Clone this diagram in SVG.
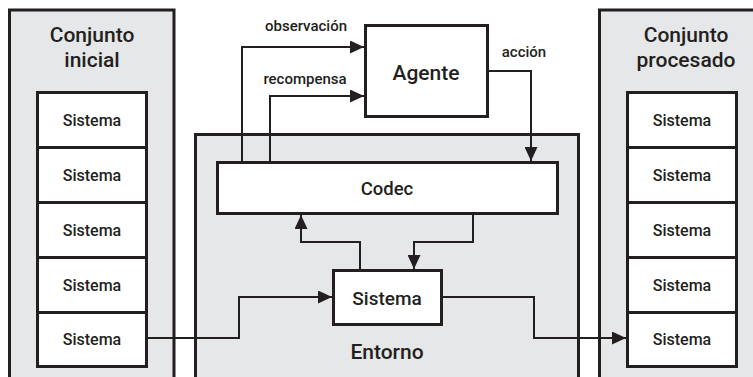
<svg xmlns="http://www.w3.org/2000/svg" width="753" height="377" viewBox="0 0 753 377">
  <style>
    .panel { fill: #e6e7e8; stroke: #231f20; stroke-width: 3; }
    .box { fill: #ffffff; stroke: #231f20; stroke-width: 3; }
    .wire { fill: none; stroke: #231f20; stroke-width: 2; }
    text { font-family: Roboto, "Liberation Sans", sans-serif; font-weight: 500; fill: #231f20; text-anchor: middle; }
    .title { font-size: 21px; }
    .item { font-size: 16px; }
    .lbl { font-size: 15px; }
    .big { font-size: 21px; }
    .mid { font-size: 18.5px; }
    .sys { font-size: 19px; }
  </style>
  <defs>
    <marker id="arrow" viewBox="0 0 14 13" refX="14" refY="6.5" markerWidth="14" markerHeight="13" markerUnits="userSpaceOnUse" orient="auto">
      <path d="M0,0 L14,6.5 L0,13 Z" fill="#231f20"/>
    </marker>
  </defs>

  <!-- background -->
  <rect x="0" y="0" width="753" height="377" fill="#ffffff"/>

  <!-- initial set -->
  <g id="initial-set">
    <rect class="panel" x="9.5" y="10" width="164.5" height="400"/>
    <text class="title" x="92" y="42">Conjunto</text>
    <text class="title" x="92" y="67">inicial</text>
  </g>
  <g id="initial-1"><rect class="box" x="37.5" y="92.5" width="109" height="55"/><text class="item" x="92" y="125.5">Sistema</text></g>
  <g id="initial-2"><rect class="box" x="37.5" y="147.5" width="109" height="55"/><text class="item" x="92" y="180.5">Sistema</text></g>
  <g id="initial-3"><rect class="box" x="37.5" y="202.5" width="109" height="55"/><text class="item" x="92" y="235.5">Sistema</text></g>
  <g id="initial-4"><rect class="box" x="37.5" y="257.5" width="109" height="55"/><text class="item" x="92" y="290.5">Sistema</text></g>
  <g id="initial-5"><rect class="box" x="37.5" y="312.5" width="109" height="54"/><text class="item" x="92" y="345">Sistema</text></g>

  <!-- processed set -->
  <g id="processed-set">
    <rect class="panel" x="599.5" y="10" width="200" height="400"/>
    <text class="title" x="686" y="42">Conjunto</text>
    <text class="title" x="686" y="67">procesado</text>
  </g>
  <g id="processed-1"><rect class="box" x="627.5" y="92.5" width="109" height="55"/><text class="item" x="682" y="125.5">Sistema</text></g>
  <g id="processed-2"><rect class="box" x="627.5" y="147.5" width="109" height="55"/><text class="item" x="682" y="180.5">Sistema</text></g>
  <g id="processed-3"><rect class="box" x="627.5" y="202.5" width="109" height="55"/><text class="item" x="682" y="235.5">Sistema</text></g>
  <g id="processed-4"><rect class="box" x="627.5" y="257.5" width="109" height="55"/><text class="item" x="682" y="290.5">Sistema</text></g>
  <g id="processed-5"><rect class="box" x="627.5" y="312.5" width="109" height="54"/><text class="item" x="682" y="345">Sistema</text></g>

  <!-- environment -->
  <g id="entorno">
    <rect class="panel" x="195.5" y="134.5" width="383" height="280"/>
    <text class="big" x="387" y="359">Entorno</text>
  </g>

  <g id="agente">
    <rect class="box" x="365.5" y="25.5" width="122" height="91"/>
    <text class="big" x="426" y="80">Agente</text>
  </g>

  <g id="codec">
    <rect class="box" x="217.5" y="162.5" width="340" height="51"/>
    <text class="mid" x="387" y="194.5">Codec</text>
  </g>

  <g id="sistema">
    <rect class="box" x="333.5" y="270.5" width="108" height="54"/>
    <text class="sys" x="387" y="304.5">Sistema</text>
  </g>

  <!-- connectors -->
  <g id="connectors">
    <path class="wire" d="M242,161 V47 H364" marker-end="url(#arrow)"/>
    <path class="wire" d="M270,161 V96 H364" marker-end="url(#arrow)"/>
    <path class="wire" d="M488,71 H531 V161" marker-end="url(#arrow)"/>
    <path class="wire" d="M360,269 V242 H301 V215" marker-end="url(#arrow)"/>
    <path class="wire" d="M473,215 V242 H414 V269" marker-end="url(#arrow)"/>
    <path class="wire" d="M148,338 H239 V297 H332" marker-end="url(#arrow)"/>
    <path class="wire" d="M443,297 H534 V338 H626" marker-end="url(#arrow)"/>
  </g>

  <!-- connector labels -->
  <g id="labels">
    <text class="lbl" x="306" y="31">observación</text>
    <text class="lbl" x="305" y="84">recompensa</text>
    <text class="lbl" x="524" y="57">acción</text>
  </g>
</svg>
